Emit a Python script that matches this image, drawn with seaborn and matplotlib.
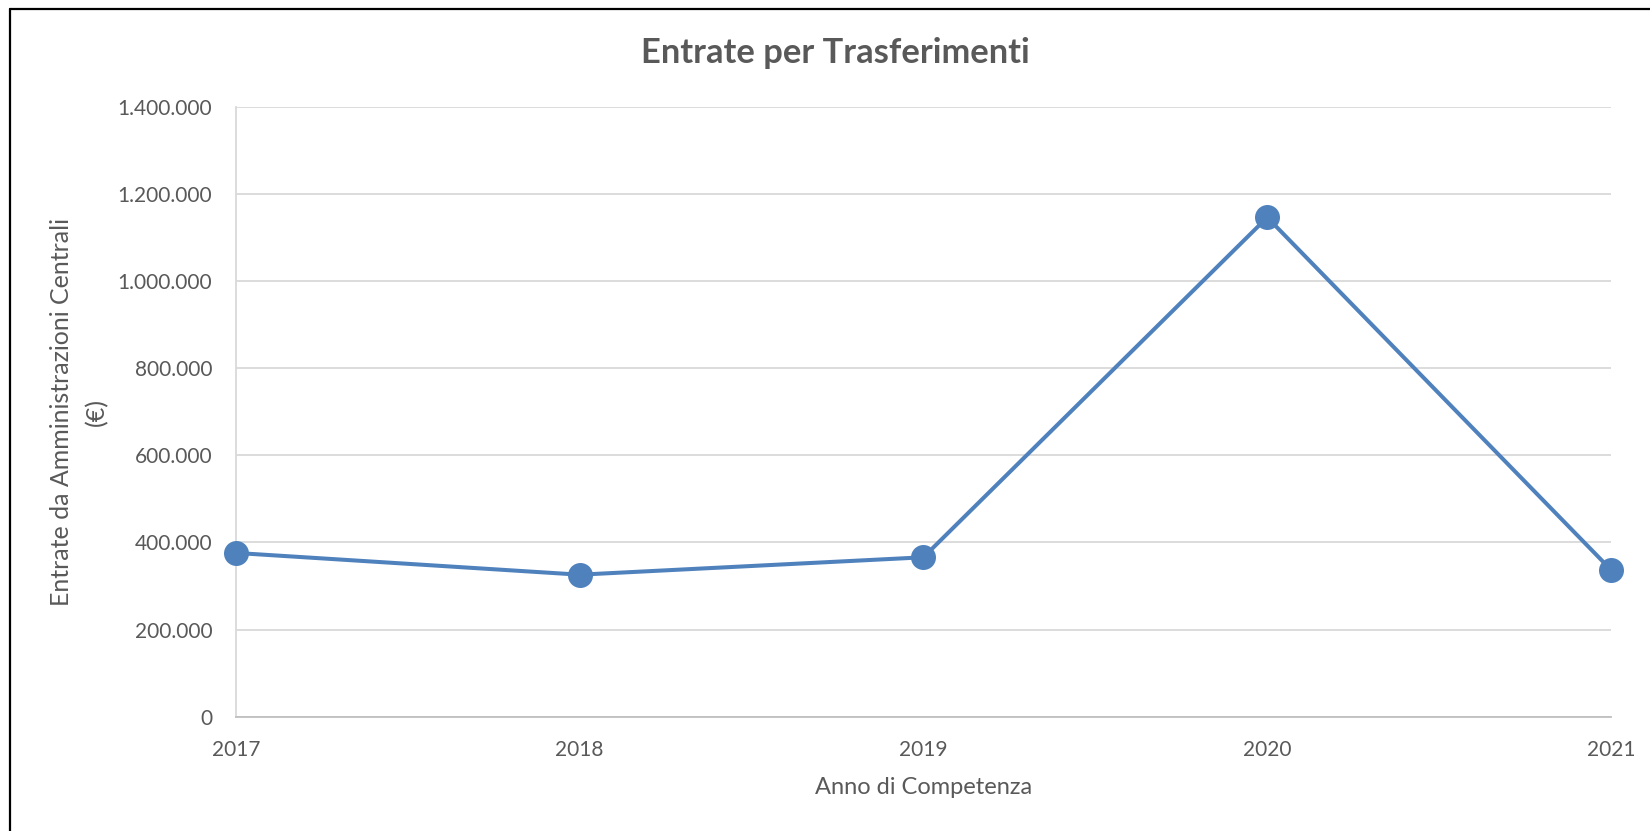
import matplotlib.pyplot as plt
import matplotlib.ticker as mticker
from matplotlib.lines import Line2D
import pandas as pd
import seaborn as sns

# dati
anni = [2017, 2018, 2019, 2020, 2021]
entrate = [376000, 326000, 366000, 1147000, 337000]
tick_y = [0, 200000, 400000, 600000, 800000, 1000000, 1200000, 1400000]

df = pd.DataFrame({"anno": anni, "entrate": entrate})

sns.set_theme(style="white")
plt.rcParams["font.family"] = ["Lato", "DejaVu Sans"]

grigio = "#595959"
blu = "#4F81BD"

fig = plt.figure(figsize=(16.5, 8.31), dpi=100)
ax = fig.add_axes([0.1429, 0.1377, 0.8335, 0.7332])

sns.lineplot(data=df, x="anno", y="entrate", ax=ax, color=blu, linewidth=2.9,
             marker="o", markersize=18, markeredgewidth=0, clip_on=False, zorder=3)

ax.set_xlim(anni[0], anni[-1])
ax.set_ylim(tick_y[0], tick_y[-1])
ax.set_xticks(anni)
ax.set_yticks(tick_y)
ax.yaxis.set_major_formatter(mticker.FuncFormatter(lambda v, p: f"{int(v):,}".replace(",", ".")))

ax.yaxis.grid(True, color="#D9D9D9", linewidth=1.3)
ax.xaxis.grid(False)
for s in ["top", "right"]:
    ax.spines[s].set_visible(False)
ax.spines["left"].set_color("#D9D9D9")
ax.spines["left"].set_linewidth(1.3)
ax.spines["bottom"].set_color("#BFBFBF")
ax.spines["bottom"].set_linewidth(1.3)

ax.tick_params(axis="both", length=0, labelsize=15, labelcolor=grigio)
ax.tick_params(axis="x", pad=17)
ax.tick_params(axis="y", pad=17)

ax.set_xlabel("Anno di Competenza", fontsize=17, color=grigio, labelpad=12)
ax.set_ylabel("Entrate da Amministrazioni Centrali\n(€)", fontsize=18, color=grigio, linespacing=1.6)
ax.yaxis.set_label_coords(-0.093, 0.5)

fig.text(835.5 / 1650, 1 - 63 / 831, "Entrate per Trasferimenti", ha="center", va="baseline",
         fontsize=24.8, fontweight="bold", color=grigio)

# cornice: solo lato sinistro e superiore visibili
xb = 9.5 / 1650
yb = 1 - 8.5 / 831
fig.add_artist(Line2D([xb, xb], [0, yb], transform=fig.transFigure, color="black", linewidth=1.6))
fig.add_artist(Line2D([xb, 1], [yb, yb], transform=fig.transFigure, color="black", linewidth=1.6))

fig.savefig("out.png", dpi=100, facecolor="white")
